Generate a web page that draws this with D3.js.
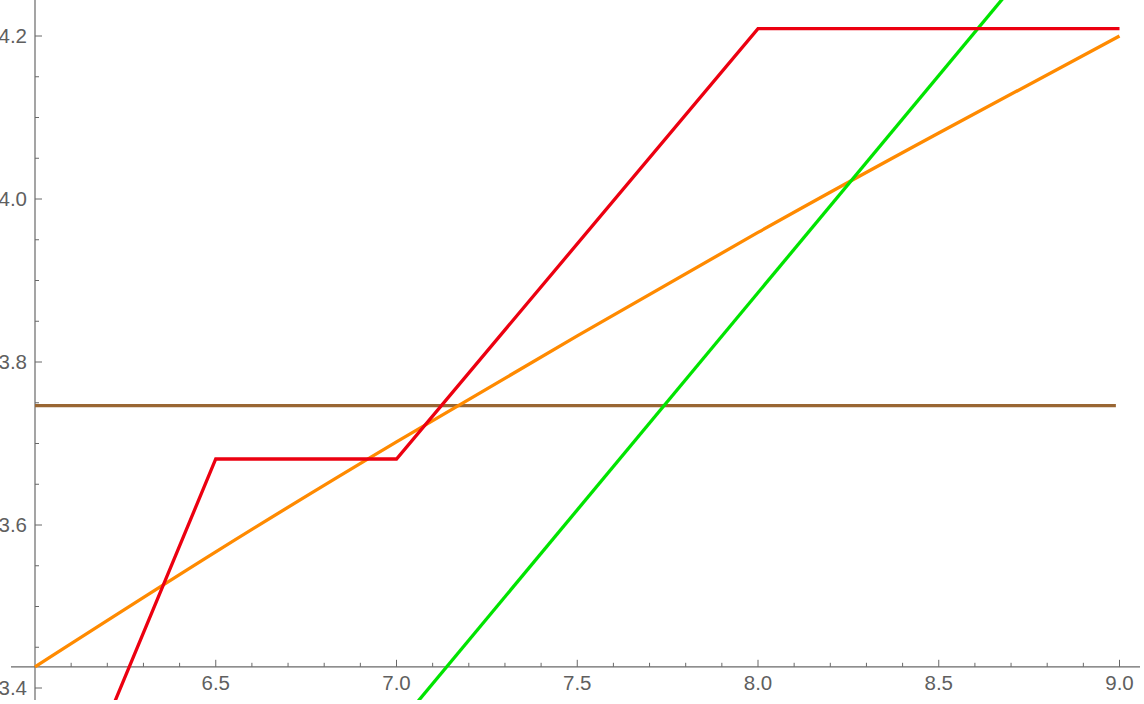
<!DOCTYPE html>
<html>
<head>
<meta charset="utf-8">
<script src="https://cdn.jsdelivr.net/npm/d3@7"></script>
<style>
html,body{margin:0;padding:0;background:#fff;}
svg{display:block;}
.lbl{font-family:'Liberation Sans', Arial, Helvetica, sans-serif;font-size:20.5px;fill:#5f5f5f;}
</style>
</head>
<body>
<svg id="chart" width="1144" height="704"></svg>
<script>
// ---- data ----
const redX = [6.0, 6.5, 7.0, 8.0, 9.0];
const redY = [3.148, 3.681, 3.681, 4.209, 4.209];
const orangeX = [6.0, 6.5, 7.0, 7.5, 8.0, 8.5, 9.0];
const orangeY = [3.426, 3.567, 3.702, 3.832, 3.959, 4.081, 4.200];
const greenX = [6.0, 9.0];
const greenY = [2.819, 4.418];
const brownX = [6.0, 8.99];
const brownY = [3.7465, 3.7465];
const xTickLabels = ["6.5", "7.0", "7.5", "8.0", "8.5", "9.0"];
const yTickLabels = ["3.4", "3.6", "3.8", "4.0", "4.2"];

// ---- layout ----
const svg = d3.select("#chart");
const x = d3.scaleLinear().domain([6, 9]).range([35, 1119.5]);
const y = d3.scaleLinear().domain([3.4, 4.2]).range([688, 36]);
const xAxisY = y(3.426);
const yAxisX = x(6);
const clipL = 11, clipR = 1140, clipT = 0, clipB = 700;

svg.append("defs").append("clipPath").attr("id", "clip")
  .append("rect").attr("x", clipL).attr("y", clipT)
  .attr("width", clipR - clipL).attr("height", clipB - clipT);

const axisColor = "#686868";

// axes lines
svg.append("line").attr("x1", clipL).attr("x2", clipR)
  .attr("y1", xAxisY).attr("y2", xAxisY)
  .attr("stroke", axisColor).attr("stroke-width", 1.2);
svg.append("line").attr("x1", yAxisX).attr("x2", yAxisX)
  .attr("y1", clipT).attr("y2", clipB)
  .attr("stroke", axisColor).attr("stroke-width", 1.2);

// x ticks
const xMinor = d3.range(61, 91).map(d => d / 10);
svg.append("g").selectAll("line").data(xMinor).join("line")
  .attr("x1", d => x(d)).attr("x2", d => x(d))
  .attr("y1", xAxisY)
  .attr("y2", d => xAxisY - (Math.abs(d * 2 - Math.round(d * 2)) < 1e-6 ? 7 : 4))
  .attr("stroke", axisColor).attr("stroke-width", 1);
svg.append("g").selectAll("text").data(xTickLabels).join("text")
  .attr("class", "lbl")
  .attr("x", d => x(+d)).attr("y", 689.5)
  .attr("text-anchor", "middle")
  .text(d => d);

// y ticks
const yMinor = d3.range(68, 85).map(d => d / 20);
svg.append("g").selectAll("line").data(yMinor).join("line")
  .attr("x1", yAxisX)
  .attr("x2", d => yAxisX + (Math.abs(d * 5 - Math.round(d * 5)) < 1e-6 ? 7 : 4))
  .attr("y1", d => y(d)).attr("y2", d => y(d))
  .attr("stroke", axisColor).attr("stroke-width", 1);
svg.append("g").selectAll("text").data(yTickLabels).join("text")
  .attr("class", "lbl")
  .attr("x", 27).attr("y", d => y(+d))
  .attr("dy", "0.36em")
  .attr("text-anchor", "end")
  .text(d => d);

// series
const plot = svg.append("g").attr("clip-path", "url(#clip)");
function addSeries(xs, ys, color, curve) {
  const line = d3.line().x(d => x(d[0])).y(d => y(d[1])).curve(curve || d3.curveLinear);
  plot.append("path")
    .datum(xs.map((v, i) => [v, ys[i]]))
    .attr("d", line)
    .attr("fill", "none")
    .attr("stroke", color)
    .attr("stroke-width", 3.3)
    .attr("stroke-linejoin", "miter");
}
addSeries(brownX, brownY, "#996633");
addSeries(orangeX, orangeY, "#ff8a00", d3.curveNatural);
addSeries(greenX, greenY, "#00e400");
addSeries(redX, redY, "#ec0010");
</script>
</body>
</html>
